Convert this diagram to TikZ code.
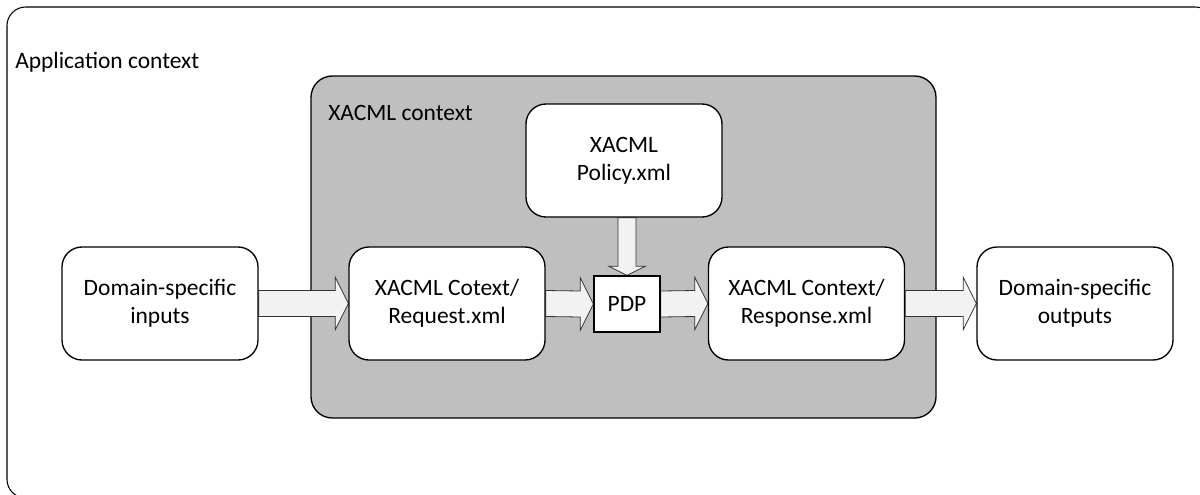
\documentclass[tikz,border=0pt]{standalone}
\usepackage{fontspec}
\setmainfont{Carlito}
\usetikzlibrary{calc}
\pgfdeclarelayer{back}
\pgfdeclarelayer{mid}
\pgfsetlayers{back,mid,main}
\definecolor{ctxgray}{HTML}{BFBFBF}
\definecolor{arrowfill}{HTML}{F2F2F2}
\tikzset{
  every node/.style={font=\fontsize{17.6}{21}\selectfont},
  box/.style={draw=black, line width=1pt, fill=white, rounded corners=15pt,
    minimum width=147pt, minimum height=84.75pt, align=center, inner sep=0pt},
  pdpbox/.style={draw=black, line width=1pt, fill=white,
    minimum width=49.5pt, minimum height=42pt, inner sep=0pt},
  ctxbox/.style={draw=black, line width=1pt, fill=ctxgray, rounded corners=16pt,
    minimum width=468.75pt, minimum height=256.5pt, inner sep=0pt},
  frame/.style={draw=black, line width=0.8pt, rounded corners=14pt},
  blockarrow/.style={draw=black!80, line width=0.6pt, fill=arrowfill, line join=miter},
  label/.style={anchor=base west, inner sep=0pt}
}
% horizontal block arrow from the east side of #1 to the west side of #2
\newcommand\flowH[2]{%
  \path[blockarrow] ($(#1.east)+(0,-13)$) -- ($(#2.west)+(-13,-13)$)
    -- ($(#2.west)+(-13,-26)$) -- (#2.west) -- ($(#2.west)+(-13,26)$)
    -- ($(#2.west)+(-13,13)$) -- ($(#1.east)+(0,13)$) -- cycle;}
\begin{document}
\begin{tikzpicture}[x=0.75pt, y=-0.75pt]
  \useasboundingbox (0,0) rectangle (1200,494);

  % processing steps
  \node[box] (inputs)   at (160,303.5)   {Domain-specific\\inputs};
  \node[box] (request)  at (447,303.5)   {XACML Cotext/\\Request.xml};
  \node[pdpbox] (pdp)   at (627,304)     {PDP};
  \node[box] (policy)   at (624,160.5)   {XACML\\Policy.xml};
  \node[box] (response) at (806.5,303.5) {XACML Context/\\Response.xml};
  \node[box] (outputs)  at (1075,303.5)  {Domain-specific\\outputs};

  % context labels
  \node[label] (applabel)  at (15,68)  {Application context};
  \node[label] (xacmllabel) at (328,120) {XACML context};

  % enclosing contexts
  \begin{pgfonlayer}{back}
    \begin{scope}
      \clip (0,0) rectangle (1200,494);
      \path[frame] (7,7) rectangle (1214,498);
    \end{scope}
    \node[ctxbox] (xacmlctx) at (623.5,247) {};
  \end{pgfonlayer}

  % data flow
  \begin{pgfonlayer}{mid}
    \flowH{inputs}{request}
    \flowH{request}{pdp}
    \flowH{pdp}{response}
    \flowH{response}{outputs}
    \path[blockarrow] ($(pdp.north |- policy.south)+(-9,0)$) -- ($(pdp.north)+(-9,-9)$)
      -- ($(pdp.north)+(-18,-9)$) -- (pdp.north) -- ($(pdp.north)+(18,-9)$)
      -- ($(pdp.north)+(9,-9)$) -- ($(pdp.north |- policy.south)+(9,0)$) -- cycle;
  \end{pgfonlayer}
\end{tikzpicture}
\end{document}
